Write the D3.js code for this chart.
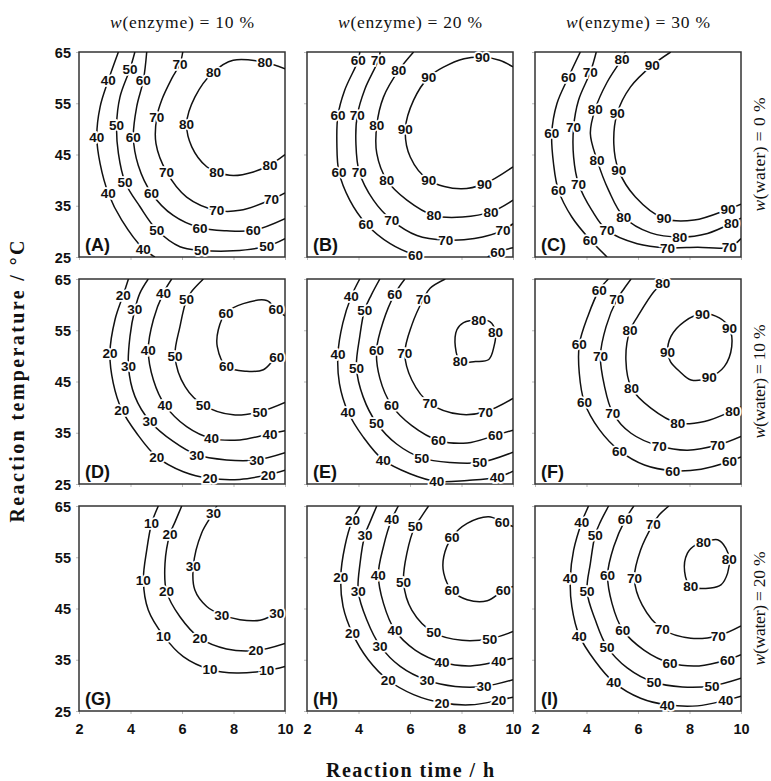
<!DOCTYPE html>
<html>
<head>
<meta charset="utf-8">
<script src="https://cdn.jsdelivr.net/npm/d3@7"></script>
<style>
  body { margin: 0; background: #fff; }
  svg { display: block; }
  .num { font-family: "Liberation Sans", Arial, sans-serif; font-weight: bold; fill: #111; }
  .ser { font-family: "Liberation Serif", "Times New Roman", serif; fill: #111; }
</style>
</head>
<body>
<svg width="771" height="781"></svg>
<script>
const enzymeLevels = [10, 20, 30];
const waterLevels = [0, 10, 20];
const panelNames = ["A", "B", "C", "D", "E", "F", "G", "H", "I"];
const xTicks = [2, 4, 6, 8, 10];
const yTicks = [25, 35, 45, 55, 65];

// contour lines: points are [time / h, temperature / °C],
// lab = indices of points that carry the value label
const contA = [
  { level: 40, lab: [1, 3, 5, 7], pts: [[3.53,65],[3.14,59.5],[2.82,54.3],[2.69,48.4],[2.82,43.2],[3.14,37.4],[3.66,32.2],[4.5,26.6],[4.95,25]] },
  { level: 50, lab: [1, 3, 5, 7, 9, 11], pts: [[4.17,65],[3.98,61.7],[3.59,56.2],[3.46,50.7],[3.53,45.2],[3.79,39.6],[4.37,34.8],[5.02,30.3],[5.92,27],[6.76,26.3],[7.99,26.2],[9.29,27.1],[10,28.6]] },
  { level: 60, lab: [1, 3, 5, 7, 9], pts: [[4.63,65],[4.5,59.5],[4.24,54.3],[4.11,48.4],[4.3,42.9],[4.82,37.4],[5.66,33.1],[6.7,30.7],[7.73,30.1],[8.77,30.2],[10,32.5]] },
  { level: 70, lab: [1, 4, 6, 8, 10], pts: [[6.03,65],[5.92,62.7],[5.6,59.8],[5.21,55.6],[5.02,52.3],[4.99,47.1],[5.4,41.6],[6.18,36.7],[7.35,34.1],[8.25,34.1],[9.48,36.2],[10,37.5]] },
  { level: 80, lab: [1, 3, 5, 8, 11], pts: [[10,61.7],[9.22,63],[7.99,63.4],[7.22,61.1],[6.5,56.2],[6.18,51],[6.38,46.5],[6.96,42.6],[7.35,41.6],[7.99,40.9],[8.77,41.6],[9.42,43],[10,45]] }
];
const contB = [
  { level: 60, lab: [1, 3, 5, 7, 9], pts: [[4.05,65],[3.99,63.4],[3.46,57.5],[3.2,52.6],[3.16,47.1],[3.24,41.6],[3.66,36.1],[4.29,31.5],[5.23,27.6],[6.21,25.3],[6.41,25]] },
  { level: 60, lab: [1], pts: [[9.02,25],[9.41,26],[10,26.8]] },
  { level: 70, lab: [1, 3, 5, 7, 9, 11], pts: [[4.84,65],[4.77,63.4],[4.25,57.8],[3.95,52.6],[3.9,47.1],[4.03,41.6],[4.58,36.1],[5.29,32.2],[6.27,29.2],[7.39,28.3],[8.5,28.6],[9.61,30.2],[10,31.5]] },
  { level: 80, lab: [1, 3, 5, 7, 9], pts: [[6.14,65],[5.56,61.4],[4.97,56.2],[4.71,50.7],[4.71,45.2],[5.1,40],[5.88,36.1],[6.93,33.1],[8.04,32.8],[9.15,33.8],[10,36.1]] },
  { level: 90, lab: [2, 5, 7, 9, 11], pts: [[10,62.1],[9.48,63.4],[8.82,64],[8.1,63.7],[7.32,62.1],[6.73,60.1],[6.14,55.6],[5.82,50],[6.01,44.5],[6.73,40],[7.97,38.3],[8.89,39.3],[10,42.6]] }
];
const contC = [
  { level: 60, lab: [1, 3, 5, 7], pts: [[3.76,65],[3.3,60.1],[2.85,54.9],[2.65,49.1],[2.72,43.2],[2.91,38],[3.43,32.8],[4.15,28.3],[4.8,25]] },
  { level: 70, lab: [1, 3, 5, 7, 9, 11], pts: [[4.38,65],[4.15,61.1],[3.69,55.6],[3.5,50.4],[3.5,44.5],[3.69,39.3],[4.21,34.1],[4.8,30.2],[5.97,27.6],[7.15,26.8],[8.31,26.9],[9.54,26.9],[10,28.6]] },
  { level: 80, lab: [1, 3, 5, 7, 9, 11], pts: [[5.51,65],[5.38,63.7],[4.8,59.1],[4.34,53.9],[4.15,49.1],[4.41,43.9],[4.86,38],[5.45,32.8],[6.49,29.7],[7.62,28.9],[8.7,29.6],[9.63,31.6],[10,32.6]] },
  { level: 90, lab: [1, 3, 5, 7, 9], pts: [[7.27,65],[6.55,62.4],[5.71,58.2],[5.19,53],[5.06,47.1],[5.25,41.9],[5.9,36.7],[7.01,32.5],[8.18,32.2],[9.5,34.3],[10,35.3]] }
];
const contD = [
  { level: 20, lab: [1, 3, 5, 7, 9, 11], pts: [[3.92,65],[3.72,61.9],[3.4,57.1],[3.2,50.5],[3.33,44.7],[3.66,39.5],[4.24,34.9],[5.02,30.3],[6.05,27.4],[7.09,26.1],[8.25,25.9],[9.35,26.8],[10,27.7]] },
  { level: 30, lab: [2, 4, 6, 8, 10], pts: [[4.69,65],[4.37,62.3],[4.17,59.1],[3.98,53.8],[3.92,47.9],[4.17,42.1],[4.76,37.2],[5.66,33.3],[6.57,30.7],[7.73,29.7],[8.9,29.7],[10,31.1]] },
  { level: 40, lab: [1, 3, 5, 7, 9], pts: [[5.6,65],[5.28,62.3],[4.89,57.1],[4.69,51.2],[4.89,45.3],[5.34,40.4],[6.18,36.2],[7.15,33.9],[8.25,33.6],[9.42,34.8],[10,35.4]] },
  { level: 50, lab: [2, 4, 6, 8], pts: [[6.83,65],[6.38,62.6],[6.18,61],[5.92,55.7],[5.73,49.9],[6.12,44],[6.83,40.4],[7.99,38.5],[9.03,39.1],[10,40.9]] },
  { level: 60, lab: [1, 4, 7, 10], pts: [[10,57.8],[9.65,59.1],[9.29,60.8],[8.38,60.2],[7.71,58.4],[7.41,55.1],[7.37,51.8],[7.73,47.9],[8.51,47],[9.16,47.3],[9.68,49.8],[10,50.4]] }
];
const contE = [
  { level: 40, lab: [1, 3, 5, 7, 9, 11], pts: [[4.05,65],[3.72,61.6],[3.39,56.4],[3.2,50.3],[3.26,44.6],[3.59,39.1],[4.18,34.2],[4.96,29.7],[6,27],[7.04,25.5],[8.22,25.7],[9.39,26.3],[10,27.5]] },
  { level: 50, lab: [2, 4, 6, 8, 10], pts: [[4.83,65],[4.5,61.9],[4.24,59],[4.05,53.8],[3.92,47.7],[4.18,42],[4.7,36.9],[5.48,32.8],[6.46,30.1],[7.56,29.2],[8.71,29.2],[10,31.2]] },
  { level: 60, lab: [1, 3, 5, 7, 9], pts: [[5.8,65],[5.41,62.1],[4.96,56.7],[4.7,51.1],[4.83,45.6],[5.28,40.4],[6.07,36.4],[7.11,33.5],[8.22,33],[9.32,34.5],[10,35.5]] },
  { level: 70, lab: [2, 4, 6, 8], pts: [[7.37,65],[6.78,63.2],[6.52,61.1],[6.07,56],[5.8,50.5],[6.07,45.3],[6.78,40.7],[7.95,38.6],[8.93,39.1],[10,41.7]] },
  { level: 80, lab: [0, 4, 6], closed: true, pts: [[7.95,48.9],[7.76,51.8],[7.82,55.1],[8.08,56.5],[8.67,57],[9.1,56.7],[9.32,54.7],[9.26,51.8],[9.06,49.3],[8.54,48.9]] }
];
const contF = [
  { level: 60, lab: [1, 3, 5, 7, 9, 11], pts: [[4.85,65],[4.5,62.9],[4.05,57.7],[3.72,52.2],[3.72,46.6],[3.92,40.9],[4.5,35.6],[5.28,31.5],[6.25,28.7],[7.35,27.6],[8.45,27.9],[9.55,29.4],[10,30.3]] },
  { level: 70, lab: [2, 4, 6, 8, 10], pts: [[5.73,65],[5.47,63.2],[5.18,61],[4.76,55.7],[4.54,50],[4.69,44.3],[5.02,38.9],[5.73,34.9],[6.83,32.4],[7.93,31.6],[9.09,32.6],[10,34.3]] },
  { level: 80, lab: [1, 4, 6, 8, 10], pts: [[7.1,65],[6.96,64.1],[6.63,62.6],[5.99,57.7],[5.69,55],[5.53,49.2],[5.75,43.7],[6.5,39.8],[7.54,36.9],[8.58,37.2],[9.68,39.3],[10,40.1]] },
  { level: 90, lab: [0, 3, 5, 8], closed: true, pts: [[7.15,50.7],[7.28,53.8],[7.8,56.7],[8.51,58.2],[9.16,57.4],[9.55,55.4],[9.64,51.8],[9.35,47.9],[8.77,45.8],[8.06,45.3],[7.61,47],[7.26,48.9]] }
];
const contG = [
  { level: 10, lab: [1, 3, 5, 7, 9], pts: [[5.08,65],[4.82,61.6],[4.63,56.4],[4.5,50.5],[4.69,44.7],[5.28,39.7],[6.05,35.6],[7.09,33.1],[8.12,32.4],[9.29,32.9],[10,33.7]] },
  { level: 20, lab: [2, 4, 6, 8], pts: [[5.99,65],[5.73,61.9],[5.53,59.5],[5.34,53.8],[5.4,48.3],[5.92,43.4],[6.7,39.2],[7.73,37.1],[8.87,36.8],[10,38.2]] },
  { level: 30, lab: [1, 3, 6, 9], pts: [[7.35,65],[7.22,63.7],[6.76,59.7],[6.44,53.3],[6.5,48.6],[6.96,45.4],[7.54,43.8],[8.25,42.8],[9.03,42.7],[9.68,44],[10,44.4]] }
];
const contH = [
  { level: 20, lab: [1, 3, 5, 7, 9, 11], pts: [[4.06,65],[3.77,62.3],[3.47,57.1],[3.31,51.1],[3.4,45.4],[3.77,40.1],[4.38,35],[5.16,31],[6.14,28.2],[7.24,26.6],[8.35,26.2],[9.45,27.1],[10,27.7]] },
  { level: 30, lab: [2, 4, 6, 8, 10], pts: [[4.71,65],[4.45,61.9],[4.25,59.4],[4.06,53.8],[3.99,48.3],[4.32,42.8],[4.84,37.7],[5.62,33.7],[6.66,31],[7.76,29.8],[8.87,29.8],[10,31.1]] },
  { level: 40, lab: [1, 3, 5, 7, 9], pts: [[5.55,65],[5.29,62.4],[4.97,57.1],[4.77,51.6],[4.97,46],[5.42,40.7],[6.2,36.9],[7.24,34.5],[8.35,33.8],[9.45,34.7],[10,35.3]] },
  { level: 50, lab: [2, 4, 6, 8], pts: [[6.72,65],[6.4,62.6],[6.2,61.1],[5.88,55.8],[5.75,50.1],[6.07,44.7],[6.92,40.3],[8.02,38.8],[9.1,39.1],[10,40.5]] },
  { level: 60, lab: [1, 4, 7, 10], pts: [[10,61],[9.58,61.9],[9.06,62.9],[8.22,61.6],[7.63,58.9],[7.31,55.1],[7.31,51.9],[7.63,48.5],[8.22,46.7],[9,46.5],[9.62,48.5],[10,49.3]] }
];
const contI = [
  { level: 40, lab: [1, 3, 5, 7, 9, 11], pts: [[4.08,65],[3.82,61.9],[3.5,56.4],[3.37,50.9],[3.43,45.4],[3.72,39.7],[4.34,34.7],[5.06,30.6],[6.1,27.5],[7.14,26.2],[8.31,26],[9.41,27.1],[10,27.9]] },
  { level: 50, lab: [2, 4, 6, 8, 10], pts: [[4.86,65],[4.54,61.9],[4.34,59.4],[4.15,53.8],[4.02,48.3],[4.34,42.8],[4.8,37.5],[5.58,33.4],[6.62,30.6],[7.72,29.7],[8.87,29.9],[10,31.4]] },
  { level: 60, lab: [1, 3, 5, 7, 9], pts: [[5.84,65],[5.51,62.4],[5.06,57.1],[4.82,51.6],[4.99,46],[5.41,40.8],[6.23,36.9],[7.24,34.4],[8.37,33.8],[9.48,35],[10,36]] },
  { level: 70, lab: [2, 4, 6, 8], pts: [[7.2,65],[6.81,63.2],[6.59,61.5],[6.1,56.4],[5.86,50.9],[6.16,45.7],[6.94,41],[8.05,39.2],[9.12,39.7],[10,41.6]] },
  { level: 80, lab: [0, 4, 7], closed: true, pts: [[8.05,49.3],[7.81,52.2],[7.92,55.8],[8.24,57.4],[8.54,57.9],[9.09,58.4],[9.41,56.8],[9.54,54.7],[9.48,51.9],[9.22,49.6],[8.83,49]] }
];
const panelContours = [contA, contB, contC, contD, contE, contF, contG, contH, contI];

const svg = d3.select("svg");
const pw = 206, ph = 205;
const colLeft = [79, 307, 535];
const rowTop = [52, 279, 506];

const x = d3.scaleLinear().domain([2, 10]).range([0, pw]);
const y = d3.scaleLinear().domain([25, 65]).range([ph, 0]);

const lineOpen = d3.line().x(d => x(d[0])).y(d => y(d[1])).curve(d3.curveCatmullRom.alpha(0.5));
const lineClosed = d3.line().x(d => x(d[0])).y(d => y(d[1])).curve(d3.curveCatmullRomClosed.alpha(0.5));

panelContours.forEach((conts, i) => {
  const col = i % 3, row = Math.floor(i / 3);
  const g = svg.append("g").attr("transform", `translate(${colLeft[col]},${rowTop[row]})`);

  g.append("clipPath").attr("id", "clip" + i)
    .append("rect").attr("width", pw).attr("height", ph);

  // faint outer ticks
  const xa = g.append("g").attr("transform", `translate(0,${ph})`)
    .call(d3.axisBottom(x).tickValues(xTicks).tickSize(3).tickFormat(row === 2 ? d3.format("d") : ""));
  const ya = g.append("g")
    .call(d3.axisLeft(y).tickValues(yTicks).tickSize(3).tickFormat(col === 0 ? d3.format("d") : ""));
  [xa, ya].forEach(a => {
    a.select(".domain").remove();
    a.selectAll(".tick line").attr("stroke", "#bbb");
    a.selectAll(".tick text").attr("class", "num").style("font-size", "14.5px").attr("fill", "#111");
  });
  xa.selectAll(".tick text").attr("dy", "1.2em");
  ya.selectAll(".tick text").attr("x", -8).attr("dy", "0.35em");

  g.append("rect").attr("width", pw).attr("height", ph)
    .attr("fill", "none").attr("stroke", "#333").attr("stroke-width", 1.5);

  const cg = g.append("g").attr("clip-path", `url(#clip${i})`);
  cg.selectAll("path").data(conts).join("path")
    .attr("d", c => (c.closed ? lineClosed : lineOpen)(c.pts))
    .attr("fill", "none").attr("stroke", "#111").attr("stroke-width", 1.5);

  const labels = conts.flatMap(c => c.lab.map(k => ({ level: c.level, p: c.pts[k] })));
  g.selectAll("text.clab").data(labels).join("text")
    .attr("class", "num clab")
    .attr("x", d => x(d.p[0])).attr("y", d => y(d.p[1]))
    .attr("dy", "0.36em").attr("text-anchor", "middle")
    .style("font-size", "13.5px")
    .attr("stroke", "#fff").attr("stroke-width", 3.5).attr("paint-order", "stroke")
    .text(d => d.level);

  g.append("text").attr("class", "num")
    .attr("x", 6).attr("y", ph - 6)
    .style("font-size", "18px")
    .text(`(${panelNames[i]})`);
});

// column titles
enzymeLevels.forEach((e, c) => {
  const t = svg.append("text").attr("class", "ser")
    .attr("x", colLeft[c] + pw / 2).attr("y", 28)
    .attr("text-anchor", "middle").style("font-size", "17.5px")
    .attr("textLength", 144).attr("lengthAdjust", "spacing");
  t.append("tspan").attr("font-style", "italic").text("w");
  t.append("tspan").text(`(enzyme) = ${e} %`);
});

// row titles
waterLevels.forEach((w, r) => {
  const cy = rowTop[r] + ph / 2;
  const t = svg.append("text").attr("class", "ser")
    .attr("transform", `translate(765,${cy}) rotate(-90)`)
    .attr("text-anchor", "middle").style("font-size", "17.5px")
    .attr("textLength", 114).attr("lengthAdjust", "spacing");
  t.append("tspan").attr("font-style", "italic").text("w");
  t.append("tspan").text(`(water) = ${w} %`);
});

svg.append("text").attr("class", "ser")
  .attr("transform", `translate(24,${(rowTop[0] + rowTop[2] + ph) / 2}) rotate(-90)`)
  .attr("text-anchor", "middle").style("font-size", "20px").style("font-weight", "bold")
  .attr("textLength", 282).attr("lengthAdjust", "spacing")
  .text("Reaction temperature / °C");

svg.append("text").attr("class", "ser")
  .attr("x", (colLeft[0] + colLeft[2] + pw) / 2).attr("y", 777)
  .attr("text-anchor", "middle").style("font-size", "20px").style("font-weight", "bold")
  .attr("textLength", 168).attr("lengthAdjust", "spacing")
  .text("Reaction time / h");
</script>
</body>
</html>
